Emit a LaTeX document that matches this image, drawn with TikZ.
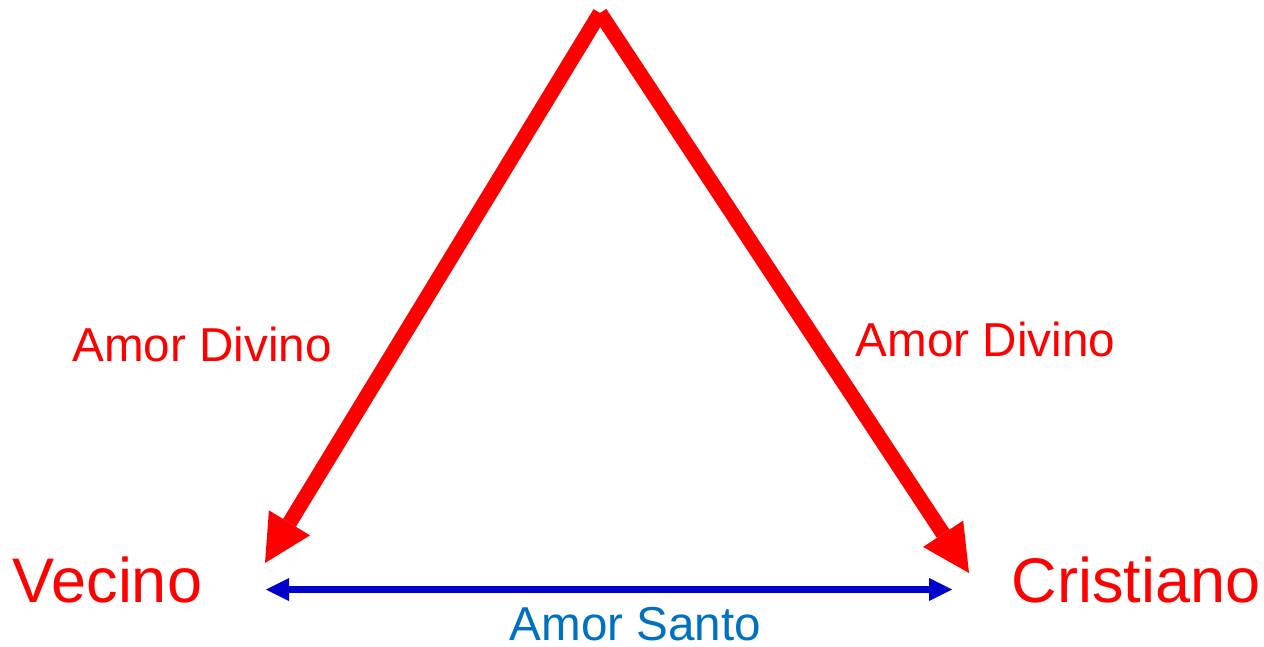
\documentclass[tikz,border=0pt]{standalone}
\usepackage{fontspec}
\setmainfont{Liberation Sans}
\usepackage{tikz}
\usetikzlibrary{arrows.meta, positioning}
\usepackage{xcolor}
\definecolor{lovered}{RGB}{255,0,0}
\definecolor{lineblue}{RGB}{0,0,204}
\definecolor{textblue}{RGB}{0,112,192}

\begin{document}
\begin{tikzpicture}[x=0.5pt, y=-0.5pt,
    divine/.style={lovered, line width=7.5pt, -{Triangle[length=23.5pt, width=24pt, line width=0pt]}},
    holy/.style={lineblue, line width=3.3pt, {Triangle[length=11.5pt, width=11.5pt, line width=0pt]}-{Triangle[length=11.5pt, width=11.5pt, line width=0pt]}},
    person/.style={lovered, font=\fontsize{31.5pt}{36pt}\selectfont, inner sep=0pt, anchor=base},
    lovelabel/.style={font=\fontsize{23.8pt}{28pt}\selectfont, inner sep=0pt, anchor=base}]
  \useasboundingbox (0,0) rectangle (1264,647);
  % end points
  \coordinate (apex) at (600,13);
  \coordinate (vecinoTip) at (265,563);
  \coordinate (cristianoTip) at (969,573);
  \coordinate (santoL) at (266,589.5);
  \coordinate (santoR) at (952,589.5);
  % labels
  \node[person] (vecino) at (107.5,602) {Vecino};
  \node[person] (cristiano) at (1136,602) {Cristiano};
  \node[lovelabel, lovered] (divinoL) at (202,361.5) {Amor Divino};
  \node[lovelabel, lovered] (divinoR) at (985.5,356) {Amor Divino};
  \node[lovelabel, textblue] (santo) at (635.5,640) {Amor Santo};
  % arrows
  \draw[divine] (apex) -- (vecinoTip);
  \draw[divine] (apex) -- (cristianoTip);
  \draw[holy] (santoL) -- (santoR);
\end{tikzpicture}
\end{document}
